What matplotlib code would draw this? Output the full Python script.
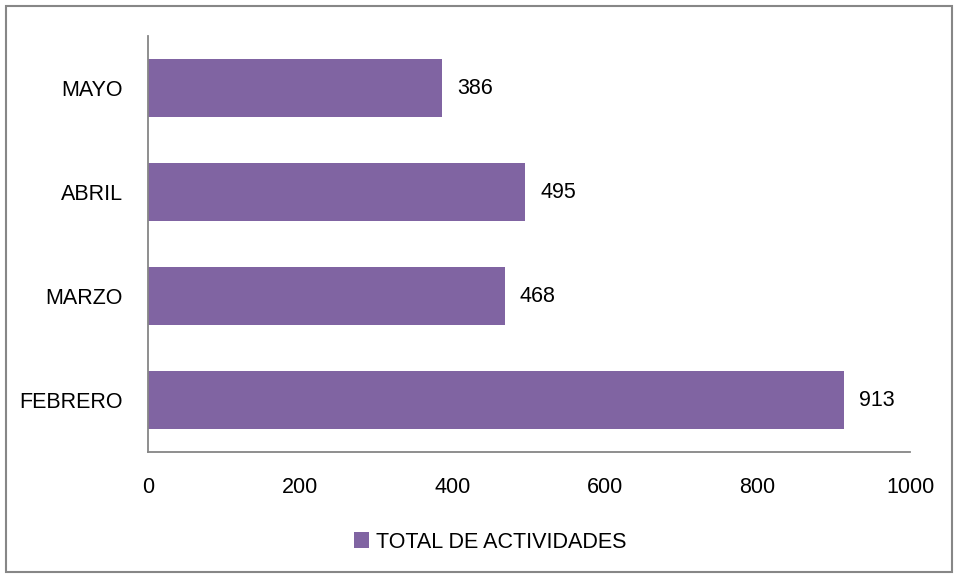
import matplotlib
matplotlib.use("Agg")
import matplotlib.pyplot as plt
from matplotlib.patches import Rectangle

categories = ["FEBRERO", "MARZO", "ABRIL", "MAYO"]
values = [913, 468, 495, 386]
series_name = "TOTAL DE ACTIVIDADES"
xticks = [0, 200, 400, 600, 800, 1000]

plt.rcParams['font.family'] = ['Liberation Sans', 'DejaVu Sans']
W, H = 959, 579
fig = plt.figure(figsize=(W/100, H/100), dpi=100)
ax = fig.add_axes([148/W, 1-452/H, (910-148)/W, (452-36)/H])

color = "#8064A2"
bars = ax.barh(range(len(categories)), values, height=0.556, color=color, label=series_name)
ax.set_ylim(-0.5, len(categories)-0.5)
ax.set_xlim(0, 1000)
ax.set_xticks(xticks)
ax.set_xticklabels([str(t) for t in xticks])
ax.set_yticks(range(len(categories)))
ax.set_yticklabels(categories)
ax.tick_params(axis='both', length=0, labelsize=15.5)
ax.tick_params(axis='y', pad=18)
ax.tick_params(axis='x', pad=18)
for s in ['top', 'right']:
    ax.spines[s].set_visible(False)
for s in ['left', 'bottom']:
    ax.spines[s].set_color('#868686')
    ax.spines[s].set_linewidth(1.3)

for b, v in zip(bars, values):
    ax.annotate(str(v), (v, b.get_y()+b.get_height()/2), xytext=(11, 0),
                textcoords='offset points', va='center', ha='left', fontsize=15.5)

fig.legend(handles=[bars], labels=[series_name], loc='center', bbox_to_anchor=(490/W, 1-542/H),
           frameon=False, fontsize=15.5, handlelength=0.7, handleheight=0.7, handletextpad=0.3)

fig.patches.append(Rectangle((6/W, 1-572/H), (952-6)/W, (572-6)/H, transform=fig.transFigure,
                             fill=False, edgecolor='#878787', linewidth=1.5))
fig.savefig("out.png", dpi=100)
